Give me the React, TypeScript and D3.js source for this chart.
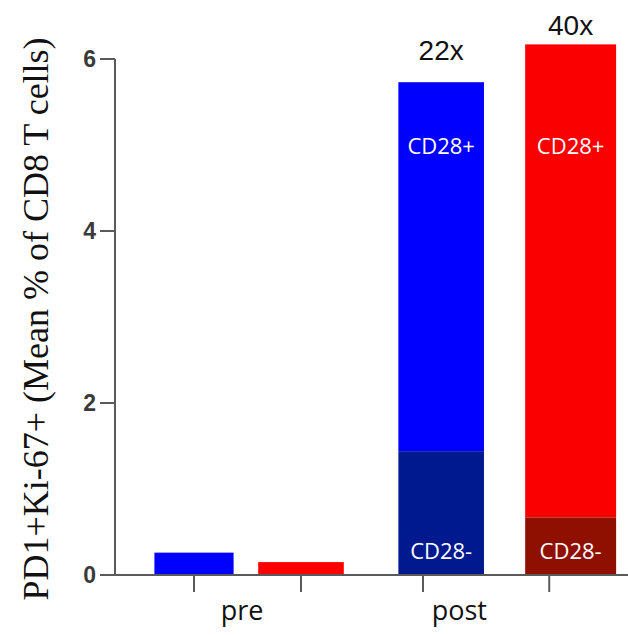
import React from "react";
import * as d3 from "d3";

// Mean % of CD8 T cells that are PD1+Ki-67+, before and after treatment
const groups = ["pre", "post"];
const groupTickPos = [1.45, 3.48];
const barIds = ["preA", "preB", "postA", "postB"];
const barPos = [1, 2, 3.31, 4.52];
const barWidths = [0.74, 0.8, 0.8, 0.85];
const cd28NegValues = [0, 0, 1.44, 0.67];
const cd28PosValues = [0.26, 0.15, 4.29, 5.5];
const barTickPos = [1, 2, 3.14, 4.32];
const foldLabels = ["", "", "22x", "40x"];
const yTicks = [0, 2, 4, 6];
const cd28PosLabelLevel = 4.9;

const lightColors = ["#0000ff", "#ff0000", "#0000ff", "#fb0000"];
const darkColors = ["#0000ff", "#ff0000", "#00198f", "#901000"];

const W = 628;
const H = 635;

export default function App() {
  const y = d3.scaleLinear().domain([0, 6]).range([575, 59]);
  const x = d3.scaleLinear().domain([0, 5]).range([87, 622]);
  const unit = x(1) - x(0);
  const sans = "'Open Sans', sans-serif";
  const axisColor = "#5a5a5a";
  const foldGap = [0, 0, 22, 9];

  return (
    <svg
      width={W}
      height={H}
      style={{ position: "fixed", left: 0, top: 0, background: "#fff" }}
    >
      {/* stacked bars */}
      {barIds.map((id, i) => {
        const left = x(barPos[i]) - (barWidths[i] * unit) / 2;
        const w = barWidths[i] * unit;
        const total = cd28NegValues[i] + cd28PosValues[i];
        return (
          <g key={id}>
            <rect
              x={left}
              y={y(total)}
              width={w}
              height={y(cd28NegValues[i]) - y(total)}
              fill={lightColors[i]}
            />
            {cd28NegValues[i] > 0 && (
              <rect
                x={left}
                y={y(cd28NegValues[i])}
                width={w}
                height={y(0) - y(cd28NegValues[i])}
                fill={darkColors[i]}
              />
            )}
            {cd28NegValues[i] > 0 && (
              <>
                <text
                  x={x(barPos[i])}
                  y={y(cd28PosLabelLevel)}
                  textAnchor="middle"
                  fill="#fff"
                  fontFamily={sans}
                  fontSize={22}
                >
                  CD28+
                </text>
                <text
                  x={x(barPos[i])}
                  y={y(0) - 16}
                  textAnchor="middle"
                  fill="#fff"
                  fontFamily={sans}
                  fontSize={22}
                >
                  CD28-
                </text>
              </>
            )}
            {foldLabels[i] && (
              <text
                x={x(barPos[i])}
                y={y(total) - foldGap[i]}
                textAnchor="middle"
                fill="#111"
                fontFamily="'Liberation Sans', Arial, sans-serif"
                fontSize={28}
              >
                {foldLabels[i]}
              </text>
            )}
          </g>
        );
      })}

      {/* x axis */}
      <line x1={115} x2={W} y1={y(0)} y2={y(0)} stroke={axisColor} strokeWidth={2} />
      {barTickPos.map((t, i) => (
        <line
          key={"xt" + i}
          x1={x(t)}
          x2={x(t)}
          y1={y(0)}
          y2={y(0) + 17}
          stroke={axisColor}
          strokeWidth={2}
        />
      ))}
      {groups.map((g, i) => (
        <text
          key={g}
          x={x(groupTickPos[i])}
          y={620}
          textAnchor="middle"
          fill="#111"
          fontFamily={sans}
          fontSize={27}
        >
          {g}
        </text>
      ))}

      {/* y axis */}
      <line x1={115} x2={115} y1={y(6)} y2={y(0)} stroke={axisColor} strokeWidth={2} />
      {yTicks.map((t) => (
        <g key={"yt" + t}>
          <line x1={100} x2={115} y1={y(t)} y2={y(t)} stroke={axisColor} strokeWidth={2} />
          <text
            x={96}
            y={y(t)}
            dy="0.36em"
            textAnchor="end"
            fill="#3a3a3a"
            fontFamily="'Liberation Sans', Arial, sans-serif"
            fontWeight="bold"
            fontSize={23}
          >
            {t}
          </text>
        </g>
      ))}
      <text
        transform={`translate(48, ${(y(0) + y(6)) / 2 + 2}) rotate(-90)`}
        textAnchor="middle"
        fill="#111"
        fontFamily="'Liberation Serif', 'Times New Roman', serif"
        fontSize={36}
      >
        PD1+Ki-67+ (Mean % of CD8 T cells)
      </text>
    </svg>
  );
}
